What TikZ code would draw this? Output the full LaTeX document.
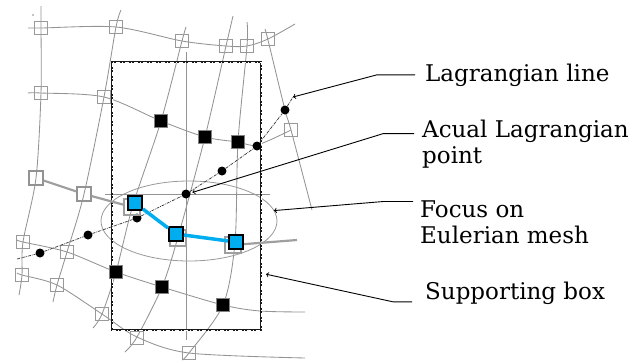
\documentclass[tikz,border=0pt]{standalone}
\usepackage{fontspec}
\setmainfont{DejaVu Serif}
\usetikzlibrary{shapes.geometric}
\usetikzlibrary{positioning}
\definecolor{lagblue}{RGB}{0,174,239}

\begin{document}
\begin{tikzpicture}[x=1pt,y=-1pt,>=to,
	mesh/.style={gray!85,line width=0.85pt},
	euler/.style={rectangle,draw=gray!80,line width=0.8pt,minimum size=13pt,inner sep=0pt},
	eulerhl/.style={euler,draw=gray!85,line width=1.5pt,minimum size=14pt},
	marked/.style={rectangle,fill=black,draw=gray,line width=0.5pt,minimum size=13pt,inner sep=0pt},
	lagdot/.style={circle,fill=black,minimum size=9pt,inner sep=0pt},
	lagpt/.style={rectangle,fill=lagblue,draw=black,line width=1.8pt,minimum size=14pt,inner sep=0pt},
	shade/.style={rectangle,draw=gray!75,line width=1.8pt,minimum size=16pt,inner sep=0pt},
	supbox/.style={rectangle,draw=gray!20!black,line width=2pt,minimum width=149pt,minimum height=268pt,
		postaction={draw=white,line width=0.4pt,dash pattern=on 4pt off 2pt on 1pt off 2pt}},
	focus/.style={ellipse,draw=gray!80,line width=0.8pt,minimum width=176pt,minimum height=80pt,outer sep=0pt},
	pointer/.style={->,black,line width=0.9pt},
	lbl/.style={font=\fontsize{23}{26}\selectfont,align=left,inner sep=0pt,anchor=base west}]

\useasboundingbox (0,0) rectangle (633,360);

% Eulerian mesh
\draw[mesh] plot[smooth,tension=0.5] coordinates {(28,28) (41,28) (116,27) (182,41) (226,46) (247,46) (268,39) (295,24)};
\draw[mesh] plot[smooth,tension=0.5] coordinates {(28,93) (41,93) (104,97) (161,121) (205,137) (238,142) (257,145) (291,130)};
\draw[mesh] plot[smooth,tension=0.5] coordinates {(17,240) (23,242) (67,252) (116,272) (162,287) (223,305) (260,311) (305,312)};
\draw[mesh] plot[smooth,tension=0.5] coordinates {(17,273) (22,275) (57,285) (102,314) (137,337) (189,353) (305,358)};
\draw[mesh] plot[smooth,tension=0.5] coordinates {(41,6) (41,28) (41,93) (36,178) (23,242) (22,275) (19,295)};
\draw[mesh] plot[smooth,tension=0.5] coordinates {(121,10) (116,27) (104,97) (84,194) (67,252) (57,285) (53,302)};
\draw[mesh] plot[smooth,tension=0.5] coordinates {(186,27) (182,41) (161,121) (133,205) (116,272) (102,314) (93,328)};
\draw[mesh] plot[smooth,tension=0.5] coordinates {(233,16) (226,46) (205,137) (178,237) (162,287) (137,337) (125,352)};
\draw[mesh] plot[smooth,tension=0.5] coordinates {(247,22) (247,46) (238,142) (235,242) (223,305) (189,353) (182,360)};
\draw[mesh] plot[smooth,tension=0.5] coordinates {(265,29) (268,40) (285,110) (291,130) (312,210)};
\draw[mesh] (186,52) -- (186,340);
\draw[mesh] (105,194) -- (270,194);
\fill (33,15) circle (0.7);

\node[focus] (foc) at (189,221) {};
\node[supbox] (box) at (186.5,196) {};

\foreach \x/\y [count=\i] in {41/28,116/27,182/41,226/46,247/46,268/39,41/93,104/97,291/130,23/242,67/252,22/275,57/285,102/314,137/338,189/353}
	\node[euler] (e\i) at (\x,\y) {};
\node[eulerhl] (eh1) at (36,178) {};
\node[eulerhl] (eh2) at (84,194) {};
\foreach \x/\y [count=\i] in {161/121,205/137,238/142,116/272,162/287,223/305}
	\node[marked] (m\i) at (\x,\y) {};

% Lagrangian line
\coordinate (lagbeg) at (17,259);
\coordinate (lagtip) at (293,97);
\foreach \x/\y [count=\i] in {40/253,88/235,137/218,186/194,222/171,257/146,285/110}
	\node[lagdot] (ld\i) at (\x,\y) {};
\draw[gray!40!black,line width=0.7pt,densely dashdotted] (lagbeg) -- (ld1) -- (ld2) -- (ld3) -- (ld4) -- (ld5) -- (ld6) -- (ld7) -- (lagtip);

% actual Lagrangian points
\node[shade] (s1) at (132,207) {};
\node[shade] (s2) at (178,238) {};
\node[shade] (s3) at (233,245) {};
\coordinate (hlend) at (297,240);
\draw[gray!75,line width=2.2pt] (eh1) -- (eh2) -- (s1) (s3) -- (hlend);
\node[lagpt] (b1) at (135,203) {};
\node[lagpt] (b2) at (176,234) {};
\node[lagpt] (b3) at (236,242) {};
\draw[lagblue,line width=3.5pt] (b1) -- (b2) -- (b3);

% labels
\node[lbl] (lagl) at (425,81) {Lagrangian line};
\node[lbl] (actl) at (422,163) {Acual Lagrangian\\point};
\node[lbl] (focl) at (420,243) {Focus on\\Eulerian mesh};
\node[lbl] (supl) at (425,299) {Supporting box};

\draw[pointer] ([xshift=-10pt]lagl.west) -- ++(-38,0) -- (lagtip);
\draw[pointer] ([xshift=-8pt,yshift=10pt]actl.west) -- ++(-31,0) -- ([xshift=2pt]ld4.20);
\draw[pointer] ([xshift=-7pt,yshift=-1.5pt]focl.north west) -- ++(-30,0) -- (foc.7);
\draw[pointer] ([xshift=-13pt,yshift=-9pt]supl.west) -- ++(-19,0) -- ([xshift=4pt]box.-46);
\end{tikzpicture}
\end{document}
